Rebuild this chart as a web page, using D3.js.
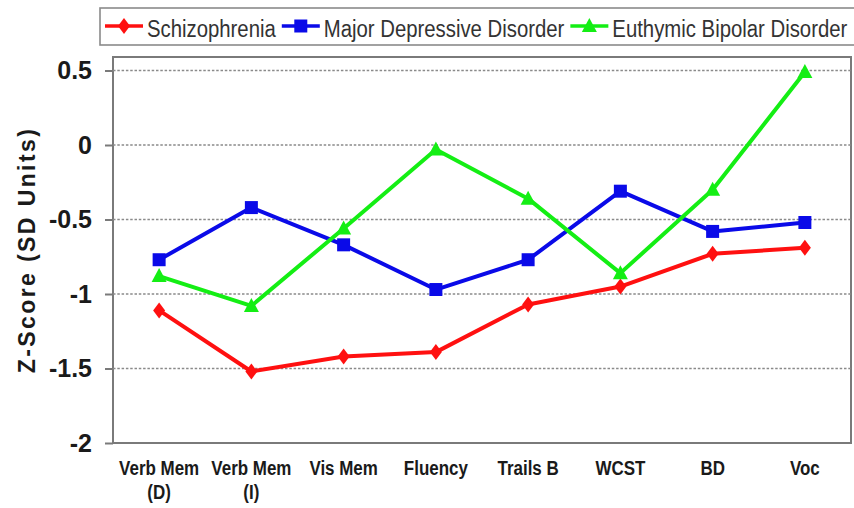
<!DOCTYPE html>
<html>
<head>
<meta charset="utf-8">
<script src="https://cdn.jsdelivr.net/npm/d3@7"></script>
<style>
  html, body { margin: 0; padding: 0; background: #fff; }
  svg { display: block; }
</style>
</head>
<body>
<svg id="chart" width="854" height="508"></svg>
<script>
// Cognitive domains along the x axis (second line of each label after "\n")
const categories = ["Verb Mem\n(D)", "Verb Mem\n(I)", "Vis Mem", "Fluency", "Trails B", "WCST", "BD", "Voc"];

// Mean z-scores per group
const schizophrenia = [-1.11, -1.52, -1.42, -1.39, -1.07, -0.95, -0.73, -0.69];
const majorDepressive = [-0.77, -0.42, -0.67, -0.97, -0.77, -0.31, -0.58, -0.52];
const euthymicBipolar = [-0.88, -1.08, -0.56, -0.03, -0.36, -0.86, -0.30, 0.49];

const seriesNames = ["Schizophrenia", "Major Depressive Disorder", "Euthymic Bipolar Disorder"];
const yTicks = [0.5, 0, -0.5, -1, -1.5, -2];

const seriesColors = ["#ff1010", "#0a0ae8", "#14ee14"];
const seriesShapes = ["diamond", "square", "triangle"];
const seriesValues = [schizophrenia, majorDepressive, euthymicBipolar];

const sans = '"Liberation Sans", Arial, sans-serif';
const legendSqueeze = 0.83; // horizontal squeeze giving a narrow face
const labelSqueeze = 0.87;

const svg = d3.select("#chart");

const frame = { left: 113, right: 851, top: 57, bottom: 443 };

const x = d3.scalePoint()
  .domain(categories)
  .range([frame.left, frame.right])
  .padding(0.5);

const y = d3.scaleLinear()
  .domain([-2, 0.5])
  .range([443, 70.5]);

// Marker path builders
function markerPath(shape) {
  if (shape === "diamond") return "M0,-8L6,0L0,8L-6,0Z";
  if (shape === "square") return "M-6.5,-6.5H6.5V6.5H-6.5Z";
  return "M0,-8L7.5,6L-7.5,6Z";
}

// Plot frame
svg.append("rect")
  .attr("x", frame.left).attr("y", frame.top)
  .attr("width", frame.right - frame.left)
  .attr("height", frame.bottom - frame.top)
  .attr("fill", "none")
  .attr("stroke", "#7a7a7a")
  .attr("stroke-width", 2);

// Dotted horizontal gridlines
svg.append("g")
  .selectAll("line")
  .data(yTicks.filter(t => t > -2))
  .join("line")
  .attr("x1", frame.left).attr("x2", frame.right)
  .attr("y1", d => y(d)).attr("y2", d => y(d))
  .attr("stroke", "#8a8a8a")
  .attr("stroke-width", 1.6)
  .attr("stroke-dasharray", "2.5,1.8");

// Y axis ticks and labels
const yAxis = d3.axisLeft(y)
  .tickValues(yTicks)
  .tickSize(8)
  .tickPadding(13)
  .tickFormat(d => String(d));

const yg = svg.append("g")
  .attr("transform", `translate(${frame.left},0)`)
  .call(yAxis);
yg.select(".domain").remove();
yg.selectAll(".tick line").attr("stroke", "#7a7a7a").attr("stroke-width", 2);
yg.selectAll(".tick text")
  .attr("fill", "#1a1a1a")
  .style("font-family", sans)
  .style("font-weight", "bold")
  .style("font-size", "25px");

// Y axis title
svg.append("text")
  .attr("transform", "translate(35,250) rotate(-90)")
  .attr("text-anchor", "middle")
  .attr("fill", "#1a1a1a")
  .style("font-family", sans)
  .style("font-weight", "bold")
  .style("font-size", "23px")
  .style("letter-spacing", "2.4px")
  .text("Z-Score (SD Units)");

// X category labels (two lines where needed)
const xl = svg.append("g")
  .selectAll("text")
  .data(categories)
  .join("text")
  .attr("transform", d => `translate(${x(d)},475) scale(${labelSqueeze},1)`)
  .attr("text-anchor", "middle")
  .attr("fill", "#1a1a1a")
  .style("font-family", sans)
  .style("font-weight", "bold")
  .style("font-size", "19.5px");
xl.each(function(d) {
  d3.select(this).selectAll("tspan")
    .data(d.split("\n"))
    .join("tspan")
    .attr("x", 0)
    .attr("dy", (p, i) => i === 0 ? 0 : 24)
    .text(p => p);
});

// Series lines and markers
const line = d3.line()
  .x((v, i) => x(categories[i]))
  .y(v => y(v));

seriesValues.forEach((vals, s) => {
  const g = svg.append("g");
  g.append("path")
    .datum(vals)
    .attr("d", line)
    .attr("fill", "none")
    .attr("stroke", seriesColors[s])
    .attr("stroke-width", 4)
    .attr("stroke-linejoin", "round");
  g.selectAll("path.m")
    .data(vals)
    .join("path")
    .attr("class", "m")
    .attr("d", markerPath(seriesShapes[s]))
    .attr("transform", (v, i) => `translate(${x(categories[i])},${y(v)})`)
    .attr("fill", seriesColors[s]);
});

// Legend
const legend = svg.append("g");
legend.append("rect")
  .attr("x", 100).attr("y", 8)
  .attr("width", 770).attr("height", 37)
  .attr("fill", "#fff")
  .attr("stroke", "#8a8a8a")
  .attr("stroke-width", 1.6);

let lx = 105;
seriesNames.forEach((name, s) => {
  const item = legend.append("g");
  item.append("line")
    .attr("x1", lx).attr("x2", lx + 38)
    .attr("y1", 26).attr("y2", 26)
    .attr("stroke", seriesColors[s])
    .attr("stroke-width", 3.5);
  item.append("path")
    .attr("d", markerPath(seriesShapes[s]))
    .attr("transform", `translate(${lx + 19},26)`)
    .attr("fill", seriesColors[s]);
  const t = item.append("text")
    .attr("transform", `translate(${lx + 42},37) scale(${legendSqueeze},1)`)
    .attr("fill", "#333")
    .style("font-family", sans)
    .style("font-size", "24.5px")
    .text(name);
  lx += 42 + t.node().getComputedTextLength() * legendSqueeze + 6;
});
</script>
</body>
</html>
